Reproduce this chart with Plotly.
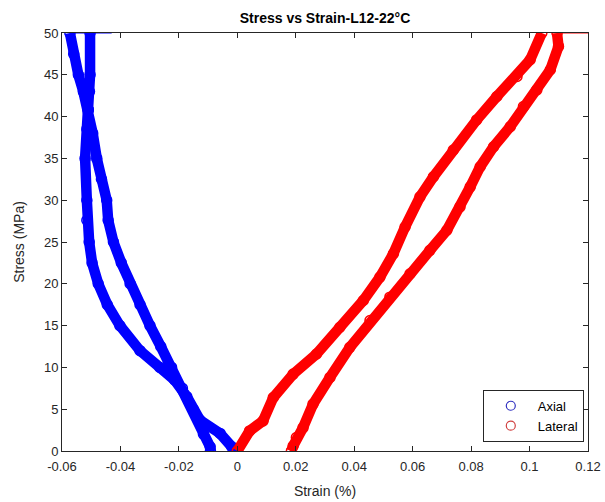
import plotly.graph_objects as go

# Axial (blue) - loading branch, from origin upward
axial_load_strain = [0.0, -0.0019, -0.0059, -0.0128, -0.0173, -0.0215, -0.0265, -0.0333, -0.0402,
                     -0.0445, -0.0476, -0.0497, -0.0507, -0.0515, -0.0515, -0.0521, -0.0515, -0.0510,
                     -0.0506, -0.0504, -0.0504]
axial_load_stress = [0.0, 0.5, 2.1, 3.7, 6.5, 8.5, 10.0, 12.0, 15.0,
                     17.5, 20.0, 22.5, 25.0, 27.6, 30.0, 35.0, 38.5, 40.8,
                     43.0, 45.0, 50.0]
# Axial (blue) - unloading branch, from top downward
axial_unload_strain = [-0.0573, -0.0560, -0.0544, -0.0527, -0.0510, -0.0495, -0.0481, -0.0465, -0.0447,
                       -0.0442, -0.0424, -0.0397, -0.0367, -0.0333, -0.0299, -0.0262, -0.0225, -0.0188,
                       -0.0151, -0.0116, -0.0093, -0.0092]
axial_unload_stress = [50.0, 47.5, 45.0, 43.0, 40.8, 38.0, 35.0, 32.5, 30.0,
                       27.6, 25.0, 22.5, 20.0, 17.5, 15.0, 12.5, 10.0, 7.5,
                       5.0, 2.0, 0.5, 0.0]

# Lateral (red) - loading branch
lateral_load_strain = [0.0, 0.0042, 0.0088, 0.0123, 0.0191, 0.0271, 0.0351, 0.0431, 0.0488,
                       0.0534, 0.0574, 0.0625, 0.0671, 0.0739, 0.0819, 0.0888, 0.0957, 0.1002,
                       0.1042]
lateral_load_stress = [0.0, 2.4, 3.6, 6.4, 9.2, 11.6, 14.8, 18.0, 20.8,
                       23.6, 26.8, 30.4, 32.8, 36.0, 39.6, 42.4, 44.8, 46.8,
                       50.0]
# Lateral (red) - unloading branch
lateral_unload_strain = [0.1094, 0.1099, 0.1071, 0.1025, 0.0979, 0.0934, 0.0877, 0.0831, 0.0797,
                         0.0762, 0.0717, 0.0659, 0.0591, 0.0522, 0.0454, 0.0385, 0.0317, 0.0259,
                         0.0225, 0.0202, 0.0191, 0.0185]
lateral_unload_stress = [50.0, 48.4, 45.6, 43.2, 41.2, 38.8, 36.4, 34.0, 31.6,
                         29.2, 26.4, 24.0, 21.2, 18.4, 15.6, 12.4, 8.8, 5.6,
                         2.8, 1.6, 0.6, 0.0]

# Hold segments at peak stress (thin lines along the top)
axial_hold_strain = [-0.0573, -0.0430]
lateral_hold_strain = [0.1094, 0.1200]
hold_stress = [50.0, 50.0]

x_ticks = [-0.06, -0.04, -0.02, 0, 0.02, 0.04, 0.06, 0.08, 0.1, 0.12]
x_tick_text = ["-0.06", "-0.04", "-0.02", "0", "0.02", "0.04", "0.06", "0.08", "0.1", "0.12"]
y_ticks = [0, 5, 10, 15, 20, 25, 30, 35, 40, 45, 50]

BLUE = "#0000FF"
RED = "#FF0000"

fig = go.Figure()

def band(x, y, color):
    fig.add_trace(go.Scatter(
        x=x, y=y, mode="lines+markers",
        line=dict(color=color, width=10.5),
        marker=dict(symbol="circle-open", size=10, color=color, line=dict(width=1.5, color=color)),
        showlegend=False, hoverinfo="skip", cliponaxis=True))

band(axial_load_strain, axial_load_stress, BLUE)
band(axial_unload_strain, axial_unload_stress, BLUE)
band(lateral_load_strain, lateral_load_stress, RED)
band(lateral_unload_strain, lateral_unload_stress, RED)

fig.add_trace(go.Scatter(x=axial_hold_strain, y=hold_stress, mode="lines",
                         line=dict(color=BLUE, width=1), showlegend=False, cliponaxis=False))
fig.add_trace(go.Scatter(x=lateral_hold_strain, y=hold_stress, mode="lines",
                         line=dict(color=RED, width=1), showlegend=False, cliponaxis=False))

# legend entries
fig.add_trace(go.Scatter(x=[None], y=[None], mode="markers", name="Axial",
                         marker=dict(symbol="circle-open", size=9, color="#3030C0", line=dict(width=1.2))))
fig.add_trace(go.Scatter(x=[None], y=[None], mode="markers", name="Lateral",
                         marker=dict(symbol="circle-open", size=9, color="#D04040", line=dict(width=1.2))))

axis_color = "#262626"
fig.update_layout(
    width=605, height=502,
    margin=dict(l=62, r=17, t=33, b=51, autoexpand=False),
    paper_bgcolor="white", plot_bgcolor="white",
    font=dict(family="Liberation Sans, Arial, sans-serif", size=13, color=axis_color),
    title=dict(text="<b>Stress vs Strain-L12-22°C</b>", x=(62 + 263) / 605, xanchor="center",
               y=1 - 18 / 502, yanchor="middle",
               font=dict(size=14, color="black")),
    xaxis=dict(range=[-0.06, 0.12], tickvals=x_ticks, ticktext=x_tick_text, automargin=False,
               ticks="inside", ticklen=5, tickcolor=axis_color, showline=True, linecolor=axis_color,
               linewidth=1, mirror="ticks", showgrid=False, zeroline=False, ticklabelstandoff=3,
               title=dict(text="Strain (%)", standoff=13, font=dict(size=14))),
    yaxis=dict(range=[0, 50], tickvals=y_ticks, ticks="inside", ticklen=5, tickcolor=axis_color,
               showline=True, linecolor=axis_color, linewidth=1, mirror="ticks", showgrid=False,
               automargin=False,
               zeroline=False, title=dict(text="Stress (MPa)", standoff=16, font=dict(size=14))),
    legend=dict(x=0.992, y=0.022, xanchor="right", yanchor="bottom",
                bgcolor="white", bordercolor="#262626", borderwidth=1,
                font=dict(size=13, color="black"), itemwidth=44, tracegroupgap=0,
                entrywidth=105, entrywidthmode="pixels"),
)

fig.write_html("out.html")
